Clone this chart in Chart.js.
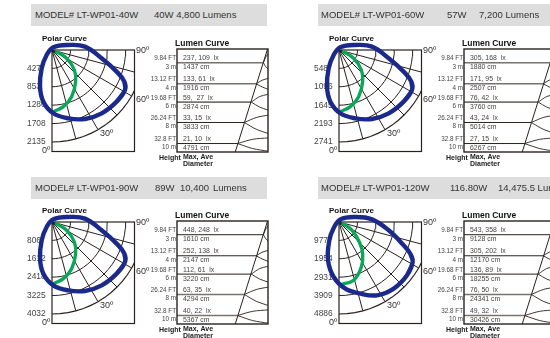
<!DOCTYPE html>
<html>
<head>
<meta charset="utf-8">
<script src="https://cdn.jsdelivr.net/npm/chart.js@4/dist/chart.umd.min.js"></script>
<style>
  html, body { margin: 0; padding: 0; background: #fff; }
  #page { position: relative; width: 550px; height: 338px; overflow: hidden; font-family: "Liberation Sans", Arial, sans-serif; filter: blur(0.35px); }
  canvas { position: absolute; }
  .bar { position: absolute; height: 22px; background: #dcdddc; }
  .bar span { position: absolute; top: 5px; font-size: 9.5px; line-height: 11px; color: #333; white-space: nowrap; }
</style>
</head>
<body>
<div id="page"></div>
<script>
// Polar curve: angle in degrees from straight down, candela at that angle
const blueAngles1 = [61.3, 51.4, 38.1, 25.6, 13.4, 1.2, -9.5, -18.1, -29.4, -46.8, 153, 107, 95.8, 80.5, 71.5, 66.4];
const blueValues1 = [1931, 1920, 1868, 1775, 1631, 1469, 1216, 896, 488, 170, 69, 396, 770, 1168, 1582, 1832];
const blueAngles2 = [61.3, 51.4, 38.1, 25.6, 13.4, 1.2, -9.5, -18.1, -29.4, -46.8, 153, 107, 95.8, 80.5, 71.5, 66.4];
const blueValues2 = [2479, 2465, 2399, 2279, 2094, 1886, 1561, 1150, 627, 218, 89, 508, 989, 1500, 2031, 2352];
const blueAngles3 = [61.3, 51.4, 38.1, 25.6, 13.4, 1.2, -9.5, -18.1, -29.4, -46.8, 153, 107, 95.8, 80.5, 71.5, 66.4];
const blueValues3 = [3648, 3627, 3529, 3353, 3081, 2775, 2297, 1693, 922, 321, 130, 748, 1455, 2206, 2988, 3461];
const blueAngles4 = [61.5, 51.9, 39.4, 27.4, 16.6, 5.4, -5.5, -16, -27.8, -41.6, 153, 107, 94.6, 80.5, 70.2, 66];
const blueValues4 = [4452, 4590, 4578, 4386, 3970, 3556, 2935, 2117, 1101, 426, 158, 907, 1758, 2675, 3650, 4144];

const greenAngles1 = [1.2, 11.3, 22.8, 36.8, 48.2, 60.4, 73];
const greenValues1 = [1431, 1341, 1175, 917, 696, 392, 81];
const greenAngles2 = [1.2, 11.3, 22.8, 36.8, 48.2, 60.4, 73];
const greenValues2 = [1837, 1722, 1509, 1177, 894, 503, 104];
const greenAngles3 = [1.2, 11.3, 22.8, 36.8, 48.2, 60.4, 73];
const greenValues3 = [2703, 2533, 2220, 1732, 1315, 741, 153];
const greenAngles4 = [2.8, 14.1, 26.4, 36.8, 45.5, 57.3, 71.6];
const greenValues4 = [3313, 3192, 2667, 2099, 1515, 820, 168];

// Rings of the polar grid, also used as the tick labels
const rings1 = [427, 853, 1280, 1708, 2135];
const rings2 = [548, 1096, 1645, 2193, 2741];
const rings3 = [806, 1612, 2418, 3225, 4032];
const rings4 = [977, 1954, 2931, 3909, 4886];
const spokes = [15, 30, 45, 60, 75];

// Lumen curve rows
const heightLabels = [["9.84 FT", "3 m"], ["13.12 FT", "4 m"], ["19.68 FT", "6 m"], ["26.24 FT", "8 m"], ["32.8 FT", "10 m"]];
const rowPos = [0, 1.045, 1.955, 2.965, 4.01];
const lux1 = ["237, 109", "133, 61", "59,  27", "33, 15", "21, 10"];
const lux2 = ["305, 168", "171, 95", "76, 42", "43, 24", "27, 15"];
const lux3 = ["448, 248", "252, 138", "112, 61", "63, 35", "40, 22"];
const lux4 = ["543, 358", "305, 202", "136, 89", "76, 50", "49, 32"];
const diam1 = [1437, 1916, 2874, 3833, 4791];
const diam2 = [1880, 2507, 3760, 5014, 6267];
const diam3 = [1610, 2147, 3220, 4294, 5367];
const diam4 = [9128, 12170, 18255, 24341, 30426];

// Where each row meets the beam edge, percent of box width, and the curves to its right
const beamTop = [99.5, -0.68];
const beamBottom = [64, 4.43];
const rowEdge = [95, 87, 81.6, 74, 66.5];
const lensUpMid = [-0.28, 0.87, 1.68, 2.72, 3.8];
const lensUpEnd = [-0.45, 0.78, 1.57, 2.6, 3.73];
const lensLowMid = [0.2, 1.2, 2.2, 3.3, 4.26];
const lensLowEnd = [0.31, 1.32, 2.35, 3.51, 4.39];

const page = document.getElementById("page");
const ink = "#2a211e";
const fontName = '"Liberation Sans", Arial, sans-serif';

function addCanvas(left, top, w, h) {
    const c = document.createElement("canvas");
    c.width = w;
    c.height = h;
    c.style.left = left + "px";
    c.style.top = top + "px";
    c.style.width = w + "px";
    c.style.height = h + "px";
    page.appendChild(c);
    return c.getContext("2d");
}

function addHeader(left, top, width, pieces) {
    const bar = document.createElement("div");
    bar.className = "bar";
    bar.style.left = left + "px";
    bar.style.top = top + "px";
    bar.style.width = width + "px";
    pieces.forEach(function(p) {
        const s = document.createElement("span");
        s.textContent = p[1];
        s.style.left = (p[0] - left) + "px";
        bar.appendChild(s);
    });
    page.appendChild(bar);
}

function polarPoint(angle, value) {
    const a = angle * Math.PI / 180;
    return { x: value * Math.sin(a), y: value * Math.cos(a) };
}

function plainLine(data, color, width, tension) {
    return { data: data, showLine: true, pointRadius: 0, borderColor: color, borderWidth: width, tension: tension || 0, fill: false };
}

function drawPolar(left, top, angles, values, greenA, greenV, rings) {
    const outer = rings[rings.length - 1];
    const pts = angles.map((a, i) => polarPoint(a, values[i]));
    // wrap a little past the start so the loop closes smoothly
    const loop = [pts[pts.length - 1]].concat(pts, [pts[0], pts[1]]);

    const sets = [];
    sets.push(Object.assign(plainLine(loop, "#1b2a8a", 4.4, 0.4), { clip: false }));
    sets.push(Object.assign(plainLine(greenA.map((a, i) => polarPoint(a, greenV[i])), "#0aa65a", 3.4, 0.4), { clip: false }));
    rings.forEach(function(r) {
        const arc = [];
        for (let a = 0; a <= 90; a += 5) arc.push(polarPoint(a, r));
        sets.push(plainLine(arc, ink, r === outer ? 1.2 : 1));
    });
    spokes.forEach(function(a) {
        sets.push(plainLine([polarPoint(a, 0), polarPoint(a, outer)], ink, 1));
    });

    new Chart(addCanvas(left, top, 160, 170), {
        type: "scatter",
        data: { datasets: sets },
        options: {
            responsive: false,
            animation: false,
            elements: { line: { capBezierPoints: false } },
            layout: { padding: { left: 27, top: 50, right: 25.5, bottom: 18.5 } },
            plugins: { legend: { display: false }, tooltip: { enabled: false } },
            scales: {
                x: { display: false, min: 0, max: 82.5 / 92 * outer },
                y: {
                    reverse: true,
                    min: 0,
                    max: 101.5 / 92 * outer,
                    grid: { display: false, drawTicks: false },
                    border: { display: false },
                    afterFit: function(s) { s.width = 25; },
                    afterBuildTicks: function(s) { s.ticks = rings.map(v => ({ value: v })); },
                    ticks: { autoSkip: false, crossAlign: "far", padding: 0, color: "#444", font: { size: 8.4, family: fontName }, callback: v => String(v) }
                }
            }
        },
        plugins: [{
            id: "polarText",
            beforeDatasetsDraw: function(chart) {
                const a = chart.chartArea, ctx = chart.ctx;
                ctx.save();
                ctx.strokeStyle = ink;
                ctx.lineWidth = 1.2;
                ctx.strokeRect(a.left, a.top, a.right - a.left, a.bottom - a.top);
                ctx.restore();
            },
            afterDraw: function(chart) {
                const a = chart.chartArea, ctx = chart.ctx;
                ctx.save();
                ctx.textBaseline = "middle";
                ctx.fillStyle = "#333";
                ctx.font = "9px " + fontName;
                ctx.fillText("90º", a.right + 1.5, a.top + 0.5);
                ctx.fillText("60º", a.right + 1.5, a.top + 49.5);
                ctx.fillText("30º", a.left + 48, a.top + 83.5);
                ctx.fillText("0º", a.left - 10, a.bottom - 1);
                ctx.fillStyle = "#111";
                ctx.font = "bold 8px " + fontName;
                ctx.fillText("Polar Curve", a.left - 10, a.top - 11.5);
                ctx.restore();
            }
        }]
    });
}

function drawLumen(left, top, lux, diam, grayRows) {
    const sets = [];
    sets.push(plainLine([{ x: beamTop[0], y: beamTop[1] }, { x: beamBottom[0], y: beamBottom[1] }], ink, 1));
    rowPos.forEach(function(y, i) {
        const edge = rowEdge[i];
        const gray = grayRows.indexOf(i) >= 0;
        sets.push(plainLine([{ x: 0, y: y }, { x: edge, y: y }], gray ? "#77736f" : ink, gray ? 1.6 : 1));
        sets.push(plainLine([{ x: edge, y: y }, { x: (edge + 100) / 2, y: lensUpMid[i] }, { x: 100, y: lensUpEnd[i] }], ink, 0.9, 0.3));
        sets.push(plainLine([{ x: edge, y: y }, { x: (edge + 100) / 2, y: lensLowMid[i] }, { x: 100, y: lensLowEnd[i] }], ink, 0.9, 0.3));
    });

    new Chart(addCanvas(left, top, 122, 170), {
        type: "scatter",
        data: { datasets: sets },
        options: {
            responsive: false,
            animation: false,
            layout: { padding: { left: 0, top: 49, right: 4, bottom: 18 } },
            plugins: { legend: { display: false }, tooltip: { enabled: false } },
            scales: {
                x: { display: false, min: 0, max: 100 },
                y: {
                    reverse: true,
                    min: -0.68,
                    max: 4.43,
                    grid: { display: false, drawTicks: false },
                    border: { display: false },
                    afterFit: function(s) { s.width = 27; },
                    afterBuildTicks: function(s) { s.ticks = rowPos.map(v => ({ value: v })); },
                    ticks: {
                        autoSkip: false,
                        padding: 1,
                        color: "#444",
                        font: { size: 6.3, family: fontName, lineHeight: 1.3 },
                        callback: v => heightLabels[rowPos.indexOf(v)]
                    }
                }
            }
        },
        plugins: [{
            id: "lumenText",
            afterDraw: function(chart) {
                const a = chart.chartArea, ctx = chart.ctx, sy = chart.scales.y;
                ctx.save();
                ctx.strokeStyle = ink;
                ctx.lineWidth = 1.4;
                ctx.strokeRect(a.left, a.top, a.right - a.left, a.bottom - a.top);
                ctx.textBaseline = "middle";
                ctx.fillStyle = "#444";
                ctx.font = "6.9px " + fontName;
                rowPos.forEach(function(v, i) {
                    const py = sy.getPixelForValue(v);
                    ctx.fillText(lux[i] + "  lx", a.left + 6, py - 4.3);
                    ctx.fillText(diam[i] + " cm", a.left + 6, py + 4.5);
                });
                ctx.fillStyle = "#222";
                ctx.font = "bold 7px " + fontName;
                ctx.fillText("Height", a.left - 18, a.bottom + 6.5);
                ctx.fillText("Max, Ave", a.left + 6, a.bottom + 5);
                ctx.fillText("Diameter", a.left + 6, a.bottom + 12.5);
                ctx.fillStyle = "#111";
                ctx.font = "bold 8.5px " + fontName;
                ctx.fillText("Lumen Curve", a.left - 2, a.top - 5);
                ctx.restore();
            }
        }]
    });
}

addHeader(31, 4, 236, [[35, "MODEL# LT-WP01-40W"], [154, "40W  4,800 Lumens"]]);
addHeader(318, 4, 232, [[321, "MODEL# LT-WP01-60W"], [447, "57W"], [479, "7,200 Lumens"]]);
addHeader(31, 177, 236, [[35, "MODEL# LT-WP01-90W"], [155, "89W"], [180, "10,400"], [213, "Lumens"]]);
addHeader(318, 177, 232, [[321, "MODEL# LT-WP01-120W"], [450, "116.80W"], [498, "14,475.5 Lumens"]]);

drawPolar(0, 0, blueAngles1, blueValues1, greenAngles1, greenValues1, rings1);
drawPolar(287, 0, blueAngles2, blueValues2, greenAngles2, greenValues2, rings2);
drawPolar(0, 172, blueAngles3, blueValues3, greenAngles3, greenValues3, rings3);
drawPolar(287, 172, blueAngles4, blueValues4, greenAngles4, greenValues4, rings4);

drawLumen(150, 0, lux1, diam1, [0, 1, 2]);
drawLumen(437, 0, lux2, diam2, [0, 1, 2]);
drawLumen(150, 172, lux3, diam3, [3, 4]);
drawLumen(437, 172, lux4, diam4, [3, 4]);
</script>
</body>
</html>
